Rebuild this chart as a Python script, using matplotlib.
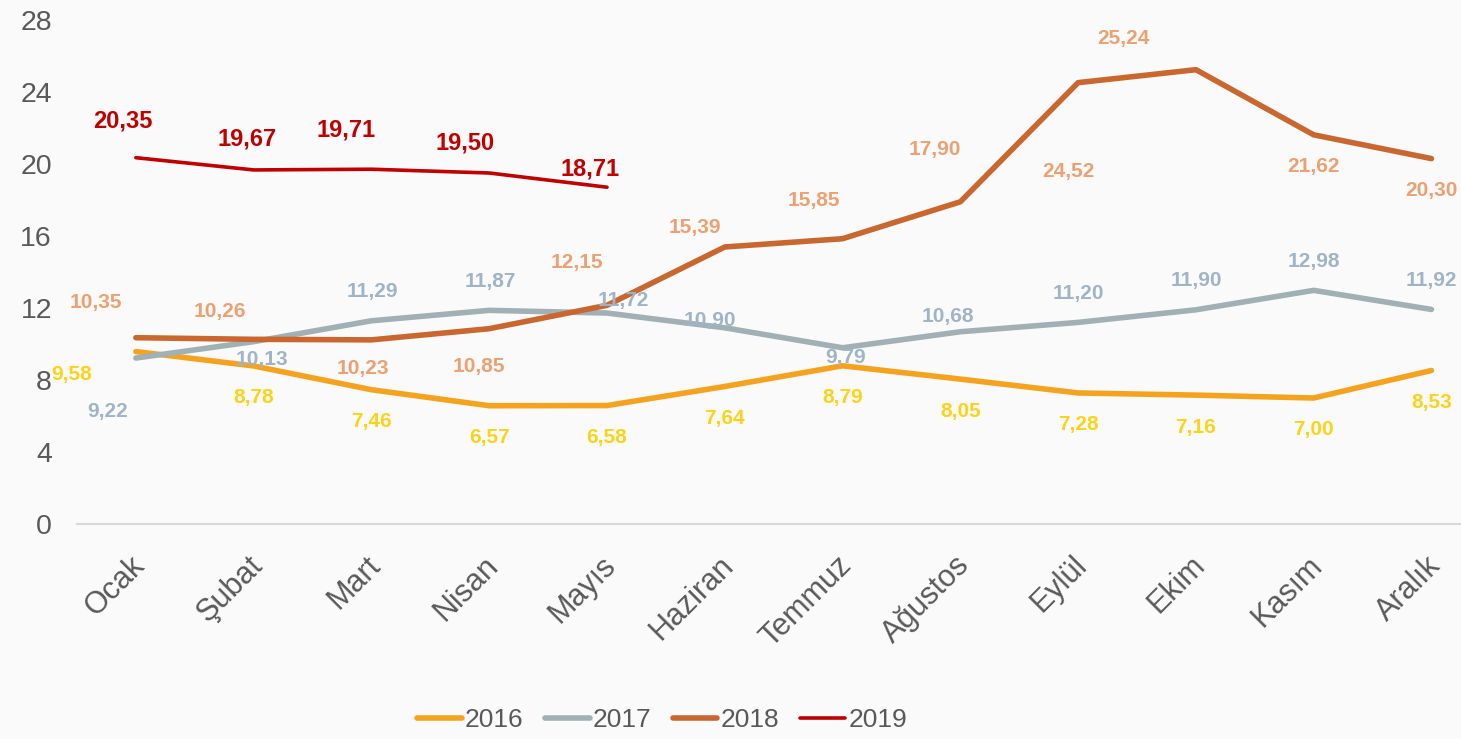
import matplotlib
matplotlib.use("Agg")
import matplotlib.pyplot as plt
import matplotlib.transforms as mtransforms

months = ["Ocak", "Şubat", "Mart", "Nisan", "Mayıs", "Haziran", "Temmuz",
          "Ağustos", "Eylül", "Ekim", "Kasım", "Aralık"]
y2016 = [9.58, 8.78, 7.46, 6.57, 6.58, 7.64, 8.79, 8.05, 7.28, 7.16, 7.00, 8.53]
y2017 = [9.22, 10.13, 11.29, 11.87, 11.72, 10.90, 9.79, 10.68, 11.20, 11.90, 12.98, 11.92]
y2018 = [10.35, 10.26, 10.23, 10.85, 12.15, 15.39, 15.85, 17.90, 24.52, 25.24, 21.62, 20.30]
y2019 = [20.35, 19.67, 19.71, 19.50, 18.71]
yticks = [0, 4, 8, 12, 16, 20, 24, 28]

# label offsets in pixels (dx, dy up)
off2016 = [(-64, -23)] + [(0, -32)] * 11
off2017 = [(-28, -53), (8, -18), (1, 29), (1, 29), (16, 13), (-15, 7), (3, -10),
           (-12, 15), (0, 29), (0, 29), (0, 29), (0, 29)]
off2018 = [(-40, 35), (-34, 28), (-9, -29), (-10, -38), (-30, 43), (-30, 19),
           (-29, 38), (-26, 52), (-10, -89), (-72, 31), (0, -32), (0, -32)]
off2019 = [(-13, 37), (-7, 31), (-25, 39), (-24, 30), (-17, 18)]

plt.rcParams['font.family'] = ['Liberation Sans', 'DejaVu Sans']
W, H = 1461, 739
fig = plt.figure(figsize=(W / 100, H / 100), dpi=100, facecolor="#fafafa")
ax_left = 77
ax_right = 134.5 + 11.5 * 117.9
ax_top, ax_bot = 20, 524
ax = fig.add_axes([ax_left / W, 1 - ax_bot / H, (ax_right - ax_left) / W, (ax_bot - ax_top) / H])
ax.set_facecolor("#fafafa")

x = list(range(12))
series = [
    ("2016", y2016, "#F5A31F", "#FFD21A", 4.0, off2016, 15),
    ("2017", y2017, "#A0B0B5", "#9FB4C7", 4.0, off2017, 15),
    ("2018", y2018, "#C9672F", "#EDA071", 4.0, off2018, 15),
    ("2019", y2019, "#C00000", "#C00000", 2.6, off2019, 17),
]
for name, ys, lc, tc, lw, offs, fs in series:
    xs = x[:len(ys)]
    ax.plot(xs, ys, color=lc, lw=lw, solid_capstyle="round", solid_joinstyle="round", label=name)
for name, ys, lc, tc, lw, offs, fs in series:
    for i, v in enumerate(ys):
        ax.annotate(f"{v:.2f}".replace(".", ","), (i, v), xytext=offs[i],
                    textcoords="offset pixels", ha="center", va="center",
                    color=tc, fontsize=fs, fontweight="bold")

ax.set_xlim(-0.5, 11.5)
ax.set_ylim(0, 28)
ax.set_yticks(yticks)
ax.set_yticklabels([str(t) for t in yticks])
ax.set_xticks(x)
ax.set_xticklabels(months, rotation=45, ha="right", va="top", rotation_mode="anchor")
ax.tick_params(axis="y", length=0, pad=18, labelsize=20.5, labelcolor="#595959")
ax.tick_params(axis="x", length=0, pad=19, labelsize=22, labelcolor="#595959")
shift = mtransforms.ScaledTranslation(-6 / 100, 0, fig.dpi_scale_trans)
for lab in ax.get_xticklabels():
    lab.set_transform(lab.get_transform() + shift)
for s in ["left", "right", "top"]:
    ax.spines[s].set_visible(False)
ax.spines["bottom"].set_color("#d9d9d9")
ax.spines["bottom"].set_linewidth(1.5)

leg = fig.legend(loc="center", bbox_to_anchor=(662 / W, 1 - 720 / H), ncol=4,
                 frameon=False, handlelength=1.7, handletextpad=0.12,
                 columnspacing=0.8, prop={"size": 19})
for t in leg.get_texts():
    t.set_color("#595959")
for h in leg.get_lines():
    h.set_solid_capstyle("round")

fig.savefig("out.png", dpi=100, facecolor=fig.get_facecolor())
